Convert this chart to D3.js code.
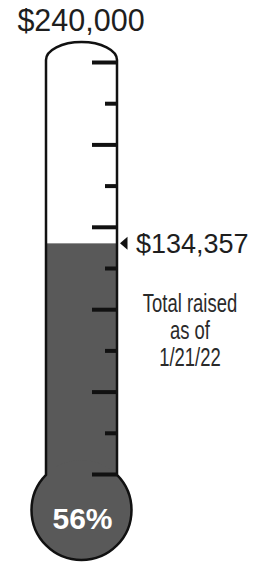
<!DOCTYPE html>
<html>
<head>
<meta charset="utf-8">
<script src="https://cdn.jsdelivr.net/npm/d3@7"></script>
<style>
  body { margin: 0; background: #fff; }
  text { font-family: "Liberation Sans", Arial, sans-serif; }
</style>
</head>
<body>
<div id="chart"></div>
<script>
var svgWidth = 266;
var svgHeight = 562;

// values
var goal = [240000];
var raised = [134357];
var noteLines = ["Total raised", "as of", "1/21/22"];
var majorTicks = [0, 48000, 96000, 144000, 192000, 240000];
var minorTicks = [24000, 72000, 120000, 168000, 216000];

// thermometer geometry
var tube = { left: 46, right: 117, top: 60, capH: 18 };
var bulb = { cx: 81.5, cy: 510, r: 50 };
var fillColor = "#595959";

var svg = d3.select("#chart")
  .append("svg")
  .attr("width", svgWidth)
  .attr("height", svgHeight);

// value scale along the tube
var yScale = d3.scaleLinear()
  .domain([0, goal[0]])
  .range([474, 62]);

var fmt = d3.format("$,");

// goal label
svg.append("text")
  .attr("x", 81)
  .attr("y", 31)
  .attr("text-anchor", "middle")
  .attr("font-size", "30.5px")
  .attr("fill", "#1e1e1e")
  .text(fmt(goal[0]));

// mercury column + bulb
var halfW = (tube.right - tube.left) / 2;
var joinY = bulb.cy - Math.sqrt(bulb.r * bulb.r - halfW * halfW);

svg.append("rect")
  .attr("x", tube.left)
  .attr("y", yScale(raised[0]))
  .attr("width", tube.right - tube.left)
  .attr("height", joinY + 10 - yScale(raised[0]))
  .attr("fill", fillColor);

svg.append("circle")
  .attr("cx", bulb.cx)
  .attr("cy", bulb.cy)
  .attr("r", bulb.r)
  .attr("fill", fillColor);

// outline
svg.append("path")
  .attr("d",
    "M" + tube.left + "," + tube.top +
    " A" + halfW + "," + tube.capH + " 0 0 1 " + tube.right + "," + tube.top +
    " L" + tube.right + "," + joinY +
    " A" + bulb.r + "," + bulb.r + " 0 1 1 " + tube.left + "," + joinY +
    " Z")
  .attr("fill", "none")
  .attr("stroke", "#111")
  .attr("stroke-width", 2.5);

// tick marks, drawn with two left axes on the right wall
function tickAxis(values, size) {
  var g = svg.append("g")
    .attr("transform", "translate(" + tube.right + ",0)")
    .call(d3.axisLeft(yScale).tickValues(values).tickSize(size).tickFormat(""));
  g.select(".domain").remove();
  g.selectAll("line")
    .attr("stroke", "#111")
    .attr("stroke-width", 4);
}
tickAxis(majorTicks, 25);
tickAxis(minorTicks, 12);

// current amount pointer
var py = yScale(raised[0]);
svg.append("path")
  .attr("d", "M120," + py + " L127.5," + (py - 6.5) + " L127.5," + (py + 6.5) + " Z")
  .attr("fill", "#111");

svg.append("text")
  .attr("x", 136)
  .attr("y", py + 10)
  .attr("font-size", "27px")
  .attr("fill", "#1e1e1e")
  .text(fmt(raised[0]));

// note, condensed
var note = svg.append("g")
  .attr("transform", "translate(190,0) scale(0.71,1)");
note.selectAll("text")
  .data(noteLines)
  .enter()
  .append("text")
  .attr("x", 0)
  .attr("y", (d, i) => 312 + i * 27)
  .attr("text-anchor", "middle")
  .attr("font-size", "26px")
  .attr("fill", "#2a2a2a")
  .text(d => d);

// percent in the bulb
svg.append("text")
  .attr("x", 82.5)
  .attr("y", 529)
  .attr("text-anchor", "middle")
  .attr("font-size", "30px")
  .attr("font-weight", "bold")
  .attr("fill", "#fff")
  .text(Math.round(raised[0] / goal[0] * 100) + "%");
</script>
</body>
</html>
